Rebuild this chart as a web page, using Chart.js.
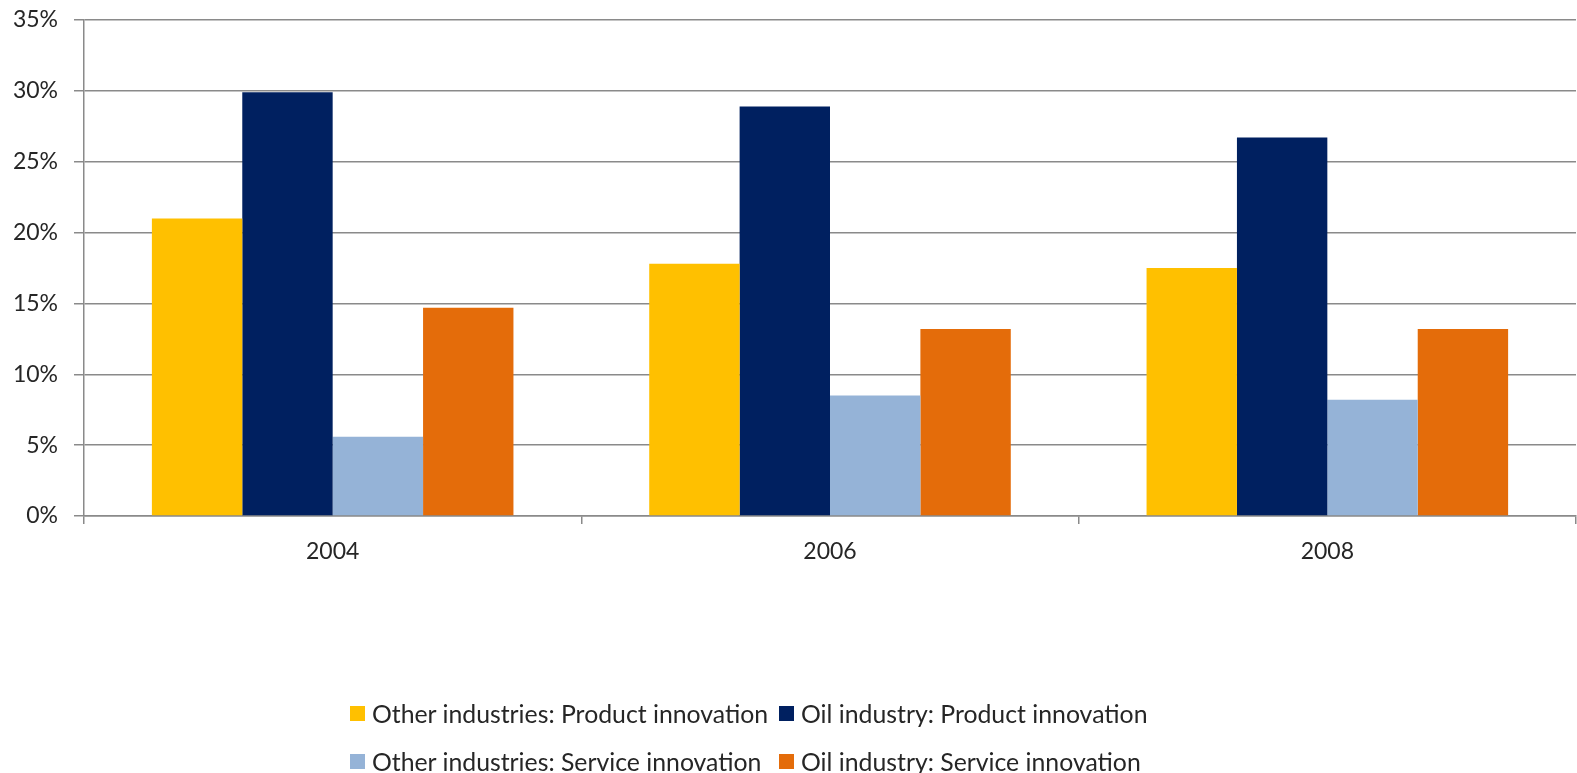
<!DOCTYPE html>
<html>
<head>
<meta charset="utf-8">
<script src="https://cdn.jsdelivr.net/npm/chart.js@4/dist/chart.umd.min.js"></script>
<style>
    html, body { margin: 0; padding: 0; background: #fff; }
    #wrap { position: relative; width: 1577px; height: 773px; }
    #innovation_chart { display: block; }
    #legend {
        position: absolute;
        left: 350px;
        top: 689px;
        display: grid;
        grid-template-columns: 429px auto;
        grid-auto-rows: 48px;
        font-family: Lato, sans-serif;
        font-size: 24.8px;
        color: #262626;
    }
    .legend_item { display: flex; align-items: center; white-space: nowrap; }
    .legend_box { width: 15px; height: 15px; margin-right: 7px; flex: none; }
</style>
</head>
<body>
<div id="wrap">
    <canvas id="innovation_chart" width="1577" height="773"></canvas>
    <div id="legend"></div>
</div>
<script>
// survey years on the x axis
const years = ['2004', '2006', '2008'];

// share of firms reporting innovation, in percent
const other_product = [21.0, 17.8, 17.5];
const oil_product = [29.9, 28.9, 26.7];
const other_service = [5.6, 8.5, 8.2];
const oil_service = [14.7, 13.2, 13.2];

const series_names = [
    'Other industries: Product innovation',
    'Oil industry: Product innovation',
    'Other industries: Service innovation',
    'Oil industry: Service innovation'
];
const series_colors = ['#FFC000', '#002060', '#95B3D7', '#E46C0A'];
const series_values = [other_product, oil_product, other_service, oil_service];

const grid_color = '#8a8a8a';
const tick_font = { family: 'Lato, sans-serif', size: 23 };

let datasetConfig = [];
for (let i = 0; i < series_names.length; i++) {
    datasetConfig.push({
        label: series_names[i],
        data: series_values[i],
        backgroundColor: series_colors[i],
        borderWidth: 0,
        barPercentage: 1,
        categoryPercentage: 0.727
    });
}

const ctx = document.getElementById('innovation_chart').getContext('2d');
const myChart = new Chart(ctx, {
    type: 'bar',
    data: { labels: years, datasets: datasetConfig },
    options: {
        responsive: false,
        animation: false,
        layout: { padding: { top: 20, right: 1, bottom: 207, left: 0 } },
        plugins: {
            legend: { display: false },
            tooltip: { enabled: false }
        },
        scales: {
            x: {
                grid: {
                    offset: true,
                    drawOnChartArea: false,
                    tickLength: 8,
                    color: grid_color,
                    lineWidth: 1.5
                },
                border: { color: grid_color, width: 1.5 },
                ticks: { color: '#262626', font: tick_font, padding: 14 },
                afterFit: function (scale) { scale.height = 50; }
            },
            y: {
                min: 0,
                max: 35,
                grid: { color: grid_color, lineWidth: 1.5, tickLength: 10 },
                border: { color: grid_color, width: 1.5 },
                ticks: {
                    stepSize: 5,
                    color: '#262626',
                    font: tick_font,
                    padding: 16,
                    callback: function (val) { return val + '%'; }
                },
                // fixed axis width; keep the label padding from pushing the plot down
                afterFit: function (scale) {
                    scale.width = 84;
                    scale.paddingTop = 0;
                    scale.paddingBottom = 0;
                }
            }
        }
    }
});

// legend in two columns, built from the chart's datasets
const legend = document.getElementById('legend');
myChart.data.datasets.forEach(ds => {
    let item = document.createElement('div');
    item.className = 'legend_item';
    let box = document.createElement('span');
    box.className = 'legend_box';
    box.style.background = ds.backgroundColor;
    let label = document.createElement('span');
    label.textContent = ds.label;
    item.appendChild(box);
    item.appendChild(label);
    legend.appendChild(item);
});
</script>
</body>
</html>
